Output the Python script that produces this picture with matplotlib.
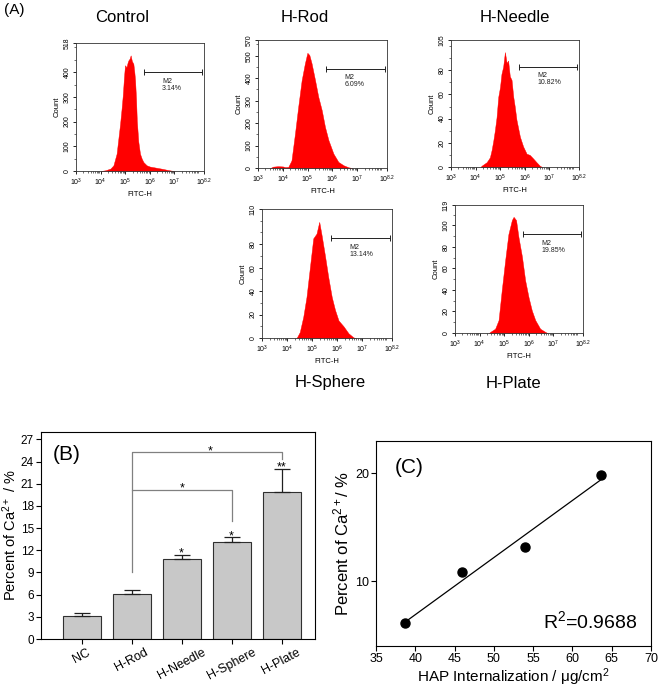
import numpy as np
import matplotlib
matplotlib.use('Agg')
import matplotlib.pyplot as plt
from matplotlib.ticker import LogLocator, NullFormatter, FixedLocator, AutoMinorLocator, MultipleLocator

plt.rcParams['font.family'] = ['Liberation Sans', 'DejaVu Sans']
plt.rcParams['mathtext.fontset'] = 'custom'
plt.rcParams['mathtext.rm'] = 'Liberation Sans'
plt.rcParams['mathtext.it'] = 'Liberation Sans:italic'
plt.rcParams['mathtext.bf'] = 'Liberation Sans:bold'

# ---------------- data ----------------
# (A) flow cytometry histograms: log10(FITC-H) vs count
ctrl_logx = [4.0, 4.2, 4.4, 4.52, 4.65, 4.72, 4.79, 4.85, 4.90, 4.95, 4.99, 5.05, 5.10, 5.13, 5.18,
             5.22, 5.27, 5.33, 5.37, 5.40, 5.44, 5.47, 5.53, 5.60, 5.67, 5.74, 5.87, 6.0, 6.28, 6.5,
             6.69, 6.85, 7.0]
ctrl_count = [0, 3, 10, 23, 70, 130, 190, 250, 306, 380, 428, 420, 440, 448, 455,
              468, 445, 434, 400, 367, 290, 205, 120, 70, 50, 36, 23, 18, 13, 9,
              5, 2, 0]

rod_logx = [3.5, 3.6, 3.8, 4.0, 4.1, 4.22, 4.35, 4.49, 4.62, 4.76, 4.89, 4.99, 5.07, 5.16, 5.30,
            5.43, 5.57, 5.70, 5.84, 6.04, 6.24, 6.45, 6.65, 6.8]
rod_count = [0, 6, 8, 7, 4, 5, 34, 153, 272, 391, 466, 513, 503, 466, 391,
             317, 257, 183, 124, 64, 27, 12, 3, 0]

needle_logx = [4.2, 4.24, 4.45, 4.58, 4.65, 4.72, 4.78, 4.85, 4.92, 4.99, 5.05, 5.12, 5.19, 5.26,
               5.32, 5.39, 5.46, 5.53, 5.59, 5.66, 5.80, 5.93, 6.07, 6.20, 6.34, 6.47, 6.61, 6.7]
needle_count = [0, 1, 4, 8, 14, 22, 30, 41, 58, 66, 77, 83, 95, 86,
                88, 75, 72, 58, 50, 39, 25, 17, 11, 10, 7, 4, 1, 0]

sphere_logx = [4.38, 4.41, 4.51, 4.65, 4.78, 4.92, 5.05, 5.18, 5.29, 5.39, 5.52, 5.65, 5.79, 5.92,
               6.06, 6.26, 6.46, 6.66, 6.75]
sphere_count = [0, 1, 5, 18, 35, 61, 85, 89, 99, 87, 70, 52, 35, 24,
                15, 10, 4, 0.5, 0]

plate_logx = [4.38, 4.43, 4.63, 4.77, 4.90, 5.04, 5.17, 5.31, 5.38, 5.48, 5.58, 5.72, 5.85, 5.99,
              6.12, 6.26, 6.46, 6.67, 6.75]
plate_count = [0, 1, 4, 12, 40, 68, 92, 105, 108, 105, 89, 71, 49, 33,
               21, 12, 4, 1, 0]

hist_titles = ['Control', 'H-Rod', 'H-Needle', 'H-Sphere', 'H-Plate']
hist_ymax = [518, 570, 105, 110, 119]
gate_pct = ['3.14%', '6.09%', '10.82%', '13.14%', '19.85%']

# (B) bar chart
bar_labels = ['NC', 'H-Rod', 'H-Needle', 'H-Sphere', 'H-Plate']
bar_values = [3.14, 6.09, 10.82, 13.14, 19.85]
bar_errors = [0.35, 0.55, 0.6, 0.6, 3.2]
bar_stars = ['', '', '*', '*', '**']

# (C) correlation
hap_internalization = [38.7, 45.9, 53.9, 63.6]
ca_percent = [6.09, 10.82, 13.14, 19.85]
r_squared = 0.9688

# ---------------- figure ----------------
W, H = 658, 686
fig = plt.figure(figsize=(W / 100, H / 100), dpi=100)


def rect(l, r, t, b):
    return [l / W, 1 - b / H, (r - l) / W, (b - t) / H]


hist_rects = [rect(76, 204, 43, 171), rect(258, 387, 40, 168), rect(451, 579, 40, 167),
              rect(262, 392, 209, 338), rect(455, 583, 205, 333)]
hist_data = [(ctrl_logx, ctrl_count), (rod_logx, rod_count), (needle_logx, needle_count),
             (sphere_logx, sphere_count), (plate_logx, plate_count)]
ytick_steps = [100, 100, 20, 20, 20]
gate_levels = [400, 443, 83, 85, 92]

for i in range(5):
    ax = fig.add_axes(hist_rects[i])
    lx, cnt = hist_data[i]
    xs = 10 ** np.array(lx)
    ax.fill_between(xs, cnt, 0, color='#ff0000', lw=0.3, edgecolor='#ff0000')
    ax.set_xscale('log')
    ax.set_xlim(1e3, 10 ** 8.2)
    ymax = hist_ymax[i]
    ax.set_ylim(0, ymax)
    step = ytick_steps[i]
    yt = list(np.arange(0, ymax - step * 0.6, step))
    if i == 3:
        yt = [0, 20, 40, 60, 80]
    ax.yaxis.set_major_locator(FixedLocator(yt + [ymax]))
    ax.set_yticklabels([str(int(v)) for v in yt] + [str(ymax)], rotation=90, va='center')
    ax.yaxis.set_minor_locator(AutoMinorLocator(2))
    xt = [1e3, 1e4, 1e5, 1e6, 1e7, 10 ** 8.2]
    ax.xaxis.set_major_locator(FixedLocator(xt))
    ax.set_xticklabels(['10$^3$', '10$^4$', '10$^5$', '10$^6$', '10$^7$', '10$^{8.2}$'])
    ax.xaxis.set_minor_locator(LogLocator(base=10, subs=np.arange(2, 10), numticks=20))
    ax.xaxis.set_minor_formatter(NullFormatter())
    ax.tick_params(which='major', labelsize=5, length=2.5, width=0.6, pad=1.5, direction='out')
    ax.tick_params(which='minor', length=1.3, width=0.4, direction='out')
    ax.tick_params(axis='x', top=False)
    ax.tick_params(axis='y', right=False)
    for s in ax.spines.values():
        s.set_linewidth(0.6)
        s.set_color('#333333')
    ax.set_xlabel('FITC-H', fontsize=5.5, labelpad=2)
    ax.set_ylabel('Count', fontsize=5.5, labelpad=2)
    # M2 gate
    gy = gate_levels[i]
    g1, g2 = 10 ** 5.76, 10 ** 8.12
    ax.plot([g1, g2], [gy, gy], color='#222222', lw=0.7)
    ax.plot([g1, g2], [gy, gy], ls='none', marker='|', color='#222222', ms=4, mew=0.7)
    ax.text(10 ** 6.5, gy - ymax * 0.045, 'M2\n' + gate_pct[i], fontsize=5, va='top', ha='left',
            linespacing=1.0, color='#222222')

# titles for histograms
fig.text(122 / W, 1 - 18 / H, 'Control', fontsize=12, ha='center', va='center')
fig.text(305 / W, 1 - 18 / H, 'H-Rod', fontsize=12, ha='center', va='center')
fig.text(515 / W, 1 - 18 / H, 'H-Needle', fontsize=12, ha='center', va='center')
fig.text(330 / W, 1 - 383 / H, 'H-Sphere', fontsize=12, ha='center', va='center')
fig.text(513 / W, 1 - 383 / H, 'H-Plate', fontsize=12, ha='center', va='center')
fig.text(14 / W, 1 - 10 / H, '(A)', fontsize=11, ha='center', va='center')

# ---------------- (B) ----------------
axb = fig.add_axes(rect(41, 315, 432, 639))
xpos = np.arange(len(bar_labels))
axb.bar(xpos, bar_values, width=0.76, color='#c8c8c8', edgecolor='#303030', linewidth=0.8, zorder=2)
axb.errorbar(xpos, bar_values, yerr=[[0] * 5, bar_errors], fmt='none', ecolor='#202020',
             elinewidth=0.9, capsize=6, capthick=0.9, zorder=3)
for xi, v, e, s in zip(xpos, bar_values, bar_errors, bar_stars):
    if s:
        axb.text(xi, v + e - 0.25, s, ha='center', va='baseline', fontsize=9)
# significance brackets
bc = '#808080'
axb.plot([1, 1, 3, 3], [9.0, 20.1, 20.1, 16.0], color=bc, lw=0.9)
axb.plot([1, 1, 4, 4], [20.1, 25.3, 25.3, 24.3], color=bc, lw=0.9)
axb.text(2.02, 19.9, '*', ha='center', va='baseline', fontsize=9)
axb.text(2.57, 25.0, '*', ha='center', va='baseline', fontsize=9)
axb.set_xlim(-0.81, 4.67)
axb.set_ylim(0, 28)
axb.yaxis.set_major_locator(MultipleLocator(3))
axb.set_xticks(xpos)
axb.set_xticklabels(bar_labels, rotation=28, ha='center', fontsize=9)
axb.tick_params(axis='y', labelsize=8.5, direction='out', length=3.5, width=0.8, right=False, pad=1.5)
axb.tick_params(axis='x', direction='out', length=3.5, width=0.8, top=False, pad=2)
for s in axb.spines.values():
    s.set_linewidth(0.8)
axb.set_ylabel('Percent of Ca$^{2+}$ / %', fontsize=10.5)
axb.yaxis.set_label_coords(-0.082, 0.5)
axb.text(0.044, 0.889, '(B)', transform=axb.transAxes, fontsize=15, ha='left', va='center')

# ---------------- (C) ----------------
axc = fig.add_axes(rect(376, 651, 441, 646))
axc.plot(hap_internalization, ca_percent, 'o', color='black', ms=6.5, zorder=3)
slope, icpt = np.polyfit(hap_internalization, ca_percent, 1)
fx = np.array([min(hap_internalization), max(hap_internalization)])
axc.plot(fx, slope * fx + icpt, color='black', lw=0.9)
axc.set_xlim(35, 70)
axc.set_ylim(4, 23)
axc.xaxis.set_major_locator(MultipleLocator(5))
axc.yaxis.set_major_locator(FixedLocator([10, 20]))
axc.tick_params(labelsize=9, direction='out', length=3.5, width=0.8, top=False, right=False, pad=1.2)
for s in axc.spines.values():
    s.set_linewidth(0.8)
axc.text(0.5, (646 - 681.5) / 205, 'HAP Internalization / μg/cm$^2$', transform=axc.transAxes,
         fontsize=11, ha='center', va='baseline')
axc.set_ylabel('Percent of Ca$^{2+}$/ %', fontsize=12)
axc.yaxis.set_label_coords(-0.09, 0.5)
axc.text(0.069, 0.873, '(C)', transform=axc.transAxes, fontsize=15, ha='left', va='center')
axc.text(0.953, 0.088, 'R$^2$=%.4f' % r_squared, transform=axc.transAxes, fontsize=14,
         ha='right', va='baseline')

fig.savefig('out.png', dpi=100)
